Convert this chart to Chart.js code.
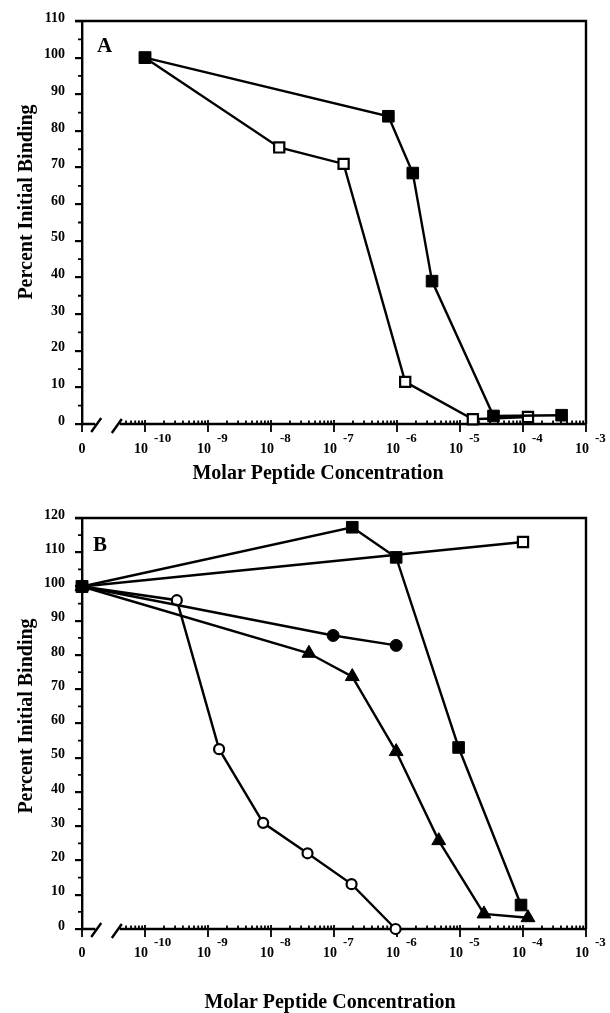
<!DOCTYPE html>
<html>
<head>
<meta charset="utf-8">
<title>Percent Initial Binding vs Molar Peptide Concentration</title>
<script src="https://cdn.jsdelivr.net/npm/chart.js@4.4.1/dist/chart.umd.min.js"></script>
<style>
  html, body { margin: 0; padding: 0; background: #fff; }
  canvas { display: block; }
</style>
</head>
<body>
<canvas id="chartA" width="610" height="490"></canvas>
<canvas id="chartB" width="610" height="523"></canvas>
<script>
// === Values (molar concentration, 0 = no peptide) ===

// Panel A
const aFilledSqConc = [1e-10, 7.3e-7, 1.78e-6, 3.6e-6, 3.4e-5, 4.1e-4];
const aFilledSqPct  = [100, 84, 68.5, 39, 2.2, 2.4];
const aOpenSqConc   = [1e-10, 1.35e-8, 1.42e-7, 1.35e-6, 1.6e-5, 1.2e-4];
const aOpenSqPct    = [100, 75.5, 71, 11.5, 1.3, 1.9];

// Panel B
const bFilledSqConc  = [0, 1.95e-7, 9.7e-7, 9.5e-6, 9.3e-5];
const bFilledSqPct   = [100, 117.3, 108.5, 53, 7];
const bOpenSqConc    = [0, 1e-4];
const bOpenSqPct     = [100, 113];
const bFilledCirConc = [0, 9.7e-8, 9.7e-7];
const bFilledCirPct  = [100, 85.7, 82.8];
const bTriConc       = [0, 4e-8, 1.95e-7, 9.7e-7, 4.6e-6, 2.4e-5, 1.2e-4];
const bTriPct        = [100, 80.5, 73.7, 51.8, 25.8, 4.4, 3.3];
const bOpenCirConc   = [0, 3.2e-10, 1.5e-9, 7.5e-9, 3.8e-8, 1.9e-7, 9.5e-7];
const bOpenCirPct    = [100, 96, 52.5, 31, 22.1, 13.1, 0];

// Concentration axis: log10 decades, "0" sits one decade left of 10^-10
const decadeTicks = [-11, -10, -9, -8, -7, -6, -5, -4, -3];
const decadeBase  = ['0', '10', '10', '10', '10', '10', '10', '10', '10'];
const decadeExp   = ['', '-10', '-9', '-8', '-7', '-6', '-5', '-4', '-3'];
const minorSteps  = [2, 3, 4, 5, 6, 7, 8, 9];

const xTitle = 'Molar Peptide Concentration';
const yTitle = 'Percent Initial Binding';

const ZERO_POS = -11;
const BREAK_L = -10.79;
const BREAK_R = -10.40;
const FONT = '"Liberation Serif", "Times New Roman", serif';

function toAxis(c) {
  return c === 0 ? ZERO_POS : Math.log10(c);
}

function series(conc, pct, style, filled, radius) {
  return {
    data: conc.map((c, i) => ({ x: toAxis(c), y: pct[i] })),
    borderColor: '#000',
    borderWidth: 2.4,
    pointStyle: style,
    pointRadius: radius,
    pointBackgroundColor: filled ? '#000' : '#fff',
    pointBorderColor: '#000',
    pointBorderWidth: filled ? 1 : 2.2,
    tension: 0,
    clip: false
  };
}

// frame, broken x axis, log ticks and all labels
const peptideAxes = {
  id: 'peptideAxes',
  beforeDatasetsDraw(chart, args, o) {
    const { ctx, chartArea: a, scales: { x, y } } = chart;
    const y0 = y.getPixelForValue(0);
    ctx.save();
    ctx.strokeStyle = '#000';
    ctx.lineWidth = 2.4;
    ctx.lineCap = 'butt';

    // top + right frame
    ctx.beginPath();
    ctx.moveTo(a.left - 7, a.top);
    ctx.lineTo(a.right, a.top);
    ctx.lineTo(a.right, y0);
    ctx.stroke();

    // bottom axis with break marks
    const xl = x.getPixelForValue(BREAK_L);
    const xr = x.getPixelForValue(BREAK_R);
    ctx.beginPath();
    ctx.moveTo(a.left, y0); ctx.lineTo(xl, y0);
    ctx.moveTo(xr, y0); ctx.lineTo(a.right, y0);
    ctx.moveTo(xl - 4, y0 + 8); ctx.lineTo(xl + 6, y0 - 6);
    ctx.moveTo(xr - 8, y0 + 9); ctx.lineTo(xr + 2, y0 - 5);
    ctx.stroke();

    // decade ticks and minor log ticks
    ctx.lineWidth = 1.8;
    ctx.beginPath();
    decadeTicks.forEach(v => {
      const px = x.getPixelForValue(v);
      ctx.moveTo(px, y0 - 4); ctx.lineTo(px, y0 + 8);
      if (v < -3) {
        minorSteps.forEach(k => {
          const m = v + Math.log10(k);
          if (m <= BREAK_R) return;
          const mx = x.getPixelForValue(m);
          ctx.moveTo(mx, y0); ctx.lineTo(mx, y0 - 3.5);
        });
      }
    });

    // minor ticks on percent axis
    for (let v = 5; v < y.max; v += 10) {
      const py = y.getPixelForValue(v);
      ctx.moveTo(a.left - 4, py); ctx.lineTo(a.left, py);
    }
    ctx.stroke();
    ctx.restore();
  },
  afterDraw(chart, args, o) {
    const { ctx, chartArea: a, scales: { x, y } } = chart;
    const y0 = y.getPixelForValue(0);
    ctx.save();
    ctx.fillStyle = '#000';
    ctx.textBaseline = 'alphabetic';

    decadeTicks.forEach((v, i) => {
      const px = x.getPixelForValue(v);
      ctx.font = 'bold 14px ' + FONT;
      if (!decadeExp[i]) {
        ctx.textAlign = 'center';
        ctx.fillText(decadeBase[i], px, y0 + o.baseDy);
        return;
      }
      ctx.textAlign = 'right';
      ctx.fillText(decadeBase[i], px + 3, y0 + o.baseDy);
      ctx.font = 'bold 13px ' + FONT;
      ctx.textAlign = 'left';
      ctx.fillText(decadeExp[i], px + 9, y0 + o.expDy);
    });

    ctx.font = 'bold 20px ' + FONT;
    ctx.textAlign = 'center';
    ctx.fillText(xTitle, o.xTitleX, o.xTitleY);

    ctx.save();
    ctx.translate(o.yTitleX, o.yTitleY);
    ctx.rotate(-Math.PI / 2);
    ctx.fillText(yTitle, 0, 0);
    ctx.restore();

    ctx.font = 'bold 21px ' + FONT;
    ctx.textAlign = 'left';
    ctx.fillText(o.letter, a.left + o.letterDx, a.top + o.letterDy);
    ctx.restore();
  }
};

function panelOptions(yMax, padding, labels) {
  return {
    responsive: false,
    animation: false,
    events: [],
    layout: { padding: padding },
    plugins: {
      legend: { display: false },
      tooltip: { enabled: false },
      peptideAxes: labels
    },
    scales: {
      x: { type: 'linear', min: -11, max: -3, display: false },
      y: {
        min: 0,
        max: yMax,
        ticks: { stepSize: 10, padding: 10, labelOffset: -3, color: '#000', font: { family: FONT, size: 14, weight: 'bold' } },
        grid: { drawOnChartArea: false, tickLength: 7, color: '#000', lineWidth: 2.2 },
        border: { color: '#000', width: 2.4 },
        afterFit(scale) { scale.width = 82; }
      }
    }
  };
}

// === Panel A ===
new Chart(document.getElementById('chartA'), {
  type: 'line',
  data: {
    datasets: [
      series(aFilledSqConc, aFilledSqPct, 'rect', true, 8.2),
      series(aOpenSqConc, aOpenSqPct, 'rect', false, 7.2)
    ]
  },
  options: panelOptions(110, { left: 0, top: 21, right: 24, bottom: 66 }, {
    letter: 'A', letterDx: 15, letterDy: 31,
    baseDy: 29, expDy: 18,
    xTitleX: 318, xTitleY: 479,
    yTitleX: 32, yTitleY: 202
  }),
  plugins: [peptideAxes]
});

// === Panel B ===
new Chart(document.getElementById('chartB'), {
  type: 'line',
  data: {
    datasets: [
      series(bFilledSqConc, bFilledSqPct, 'rect', true, 8.2),
      series(bOpenSqConc, bOpenSqPct, 'rect', false, 7.2),
      series(bFilledCirConc, bFilledCirPct, 'circle', true, 6),
      series(bTriConc, bTriPct, 'triangle', true, 8),
      series(bOpenCirConc, bOpenCirPct, 'circle', false, 5)
    ]
  },
  options: panelOptions(120, { left: 0, top: 28, right: 24, bottom: 84 }, {
    letter: 'B', letterDx: 11, letterDy: 33,
    baseDy: 28, expDy: 17,
    xTitleX: 330, xTitleY: 518,
    yTitleX: 32, yTitleY: 226
  }),
  plugins: [peptideAxes]
});
</script>
</body>
</html>
